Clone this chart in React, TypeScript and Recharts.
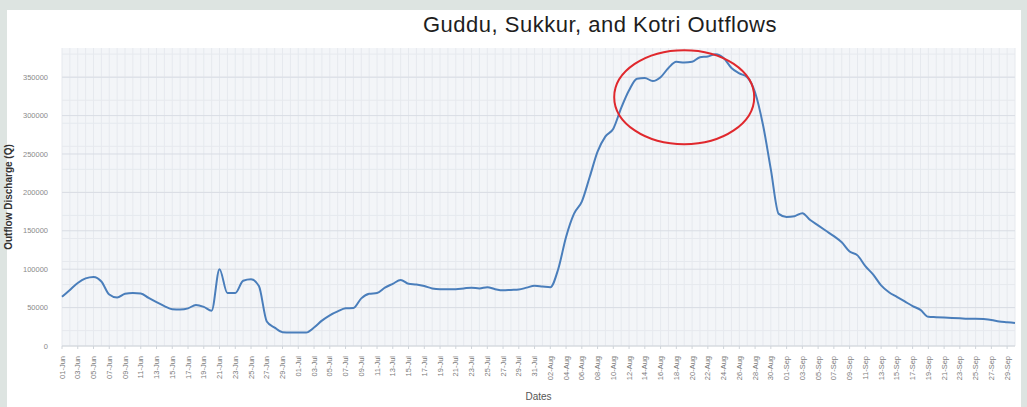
import React from "react";
import {
  CartesianGrid,
  Line,
  LineChart,
  ReferenceDot,
  XAxis,
  YAxis,
} from "recharts";

// dates 01-Jun .. 30-Sep, one point per day
const MONTHS = [
  { name: "Jun", days: 30 },
  { name: "Jul", days: 31 },
  { name: "Aug", days: 31 },
  { name: "Sep", days: 30 },
];
const DATES: string[] = MONTHS.flatMap((m) =>
  Array.from({ length: m.days }, (_, i) => `${String(i + 1).padStart(2, "0")}-${m.name}`)
);

// outflow discharge, one value per date
const OUTFLOW = [
  64000, 73000, 82000, 88000, 90000, 84000, 67000, 63000, 68000, 69000,
  68500, 62500, 57000, 52000, 48000, 47500, 49000, 53500, 51000, 46000,
  100000, 69000, 69000, 85000, 87000, 78000, 32000, 24000, 18000, 17500,
  17500, 17500, 24000, 33000, 40000, 45000, 49000, 49500, 62000, 68000,
  69000, 76000, 81000, 86000, 81000, 80000, 78000, 75000, 74000, 74000,
  74000, 75000, 76000, 75000, 76500, 74000, 72500, 73000, 73500, 76000,
  78500, 77500, 76500, 100000, 142000, 172000, 188000, 220000, 253000, 273000,
  283000, 310000, 333000, 348000, 349000, 345000, 350000, 362000, 370000, 369000,
  370000, 376000, 377000, 380000, 375000, 362000, 355000, 350000, 330000, 288000,
  230000, 172000, 168000, 169000, 173000, 164000, 157000, 150000, 143000, 135000,
  123000, 118000, 104000, 93000, 79000, 70000, 64000, 58000, 52000, 47000,
  38000, 37500, 37000, 36500, 36000, 35500, 35500, 35000, 34000, 32000,
  31000, 30000,
];

const Y_TICKS = [0, 50000, 100000, 150000, 200000, 250000, 300000, 350000];
const Y_MINOR = Array.from({ length: 39 }, (_, i) => i * 10000);

// annotation: the highlighted flood peak
const PEAK_DATE = "19-Aug";
const PEAK_VALUE = 324000;

const data = DATES.map((date, i) => ({ date, outflow: OUTFLOW[i] }));

const FONT = "'Liberation Sans', Arial, sans-serif";

const DateTick = ({ x, y, payload }: any) => (
  <g transform={`translate(${x},${y + 5})`}>
    <text
      transform="rotate(-90)"
      textAnchor="end"
      dominantBaseline="central"
      fontSize={7.5}
      fill="#7a7a7a"
      fontFamily={FONT}
    >
      {payload.value}
    </text>
  </g>
);

export default function App() {
  return (
    <div
      style={{
        position: "absolute",
        left: 0,
        top: 0,
        width: 1027,
        height: 407,
        background: "#dde4e1",
        overflow: "hidden",
      }}
    >
      <div
        style={{
          position: "absolute",
          left: 7,
          top: 10,
          width: 1014,
          height: 397,
          background: "#ffffff",
        }}
      />
      <div
        style={{
          position: "absolute",
          left: 423,
          top: 12,
          fontFamily: FONT,
          fontSize: 22,
          letterSpacing: 0.5,
          color: "#1e1e1e",
          whiteSpace: "nowrap",
        }}
      >
        Guddu, Sukkur, and Kotri Outflows
      </div>
      <div style={{ position: "absolute", left: 0, top: 0 }}>
        <LineChart
          width={1027}
          height={407}
          data={data}
          margin={{ top: 48, right: 12, bottom: 0, left: 0 }}
        >
          <CartesianGrid
            xAxisId="grid"
            horizontalValues={Y_MINOR}
            fill="#f3f5f8"
            stroke="#e6e9ee"
            vertical={true}
          />
          <CartesianGrid
            xAxisId="grid"
            horizontalValues={Y_TICKS}
            vertical={false}
            stroke="#d9dde4"
          />
          <XAxis xAxisId="grid" dataKey="date" interval={0} hide />
          <XAxis
            dataKey="date"
            interval={1}
            height={61}
            tick={<DateTick />}
            tickLine={{ stroke: "#cfd4da" }}
            tickSize={3}
            axisLine={{ stroke: "#d5d9de" }}
            label={{
              value: "Dates",
              position: "insideBottom",
              offset: 7,
              fontSize: 10,
              fill: "#555555",
              fontFamily: FONT,
            }}
          />
          <YAxis
            width={62}
            domain={[0, 388000]}
            ticks={Y_TICKS}
            tickLine={false}
            axisLine={false}
            tickMargin={8}
            tick={{ fontSize: 7.5, fill: "#8a8a8a", fontFamily: FONT }}
            label={{
              value: "Outflow Discharge (Q)",
              angle: -90,
              position: "insideLeft",
              offset: 8,
              fontSize: 10,
              fontWeight: "bold",
              fill: "#333333",
              fontFamily: FONT,
              style: { textAnchor: "middle" },
            }}
          />
          <Line
            xAxisId={0}
            type="monotone"
            dataKey="outflow"
            stroke="#4a7ebb"
            strokeWidth={2}
            dot={false}
            isAnimationActive={false}
          />
          <ReferenceDot
            x={PEAK_DATE}
            y={PEAK_VALUE}
            shape={(p: any) => (
              <ellipse
                cx={p.cx}
                cy={p.cy}
                rx={70}
                ry={47}
                fill="none"
                stroke="#e0282d"
                strokeWidth={2}
              />
            )}
          />
        </LineChart>
      </div>
    </div>
  );
}
